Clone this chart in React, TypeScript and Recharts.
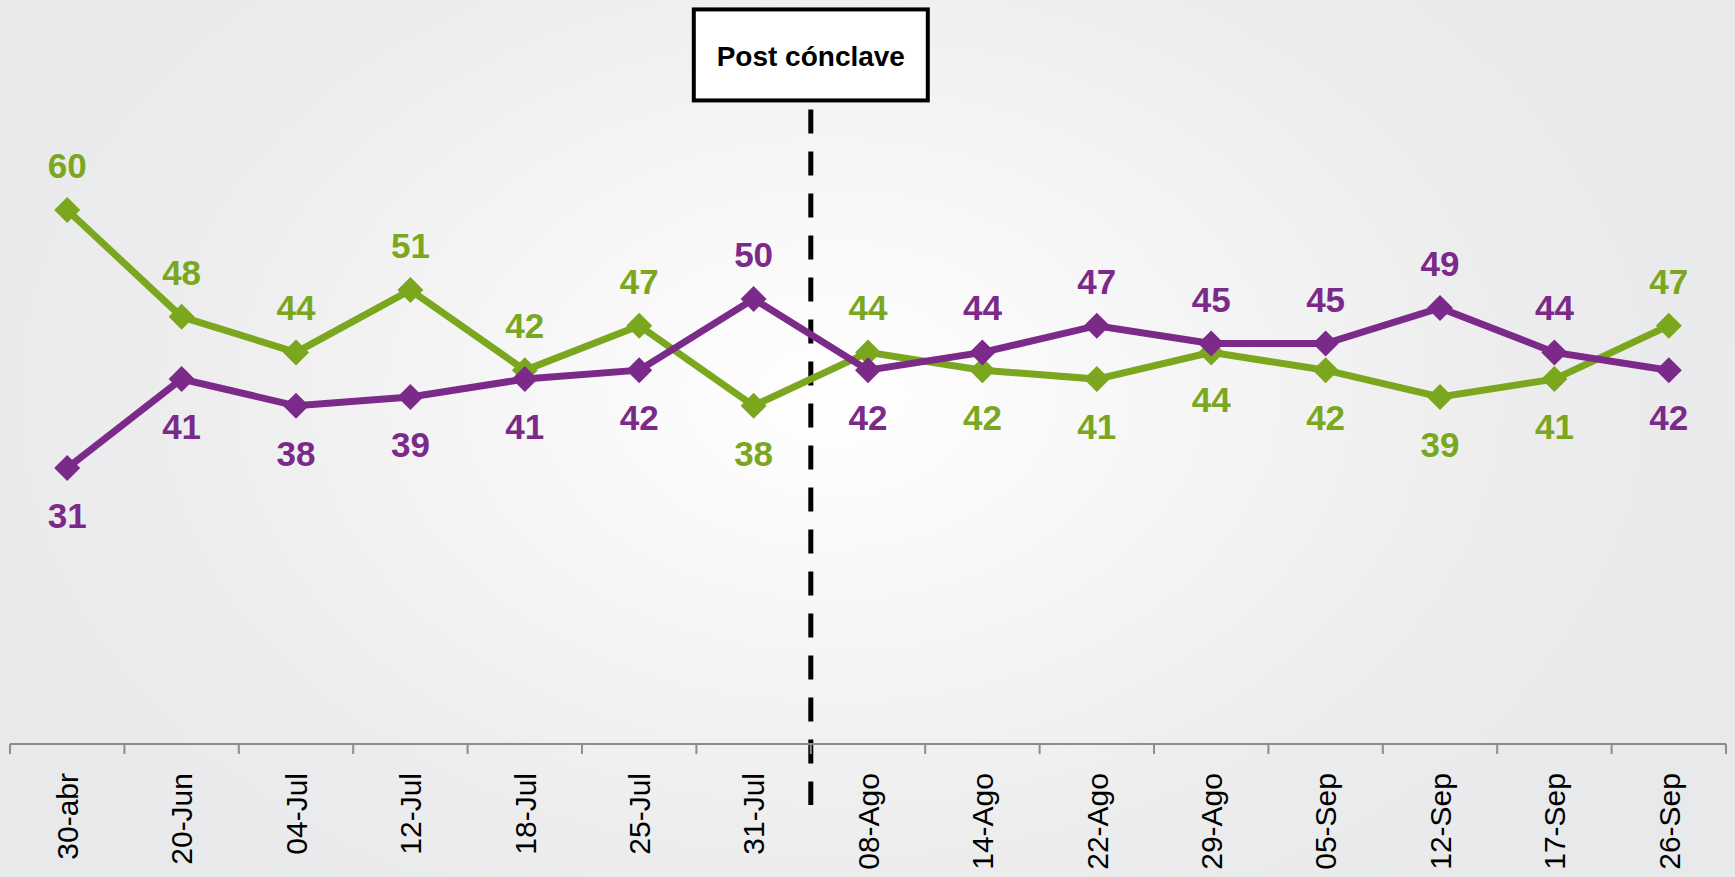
import React from "react";
import { LineChart, Line, XAxis, YAxis, ReferenceLine, LabelList } from "recharts";

const categories = ["30-abr", "20-Jun", "04-Jul", "12-Jul", "18-Jul", "25-Jul", "31-Jul", "08-Ago", "14-Ago", "22-Ago", "29-Ago", "05-Sep", "12-Sep", "17-Sep", "26-Sep"];
const greenValues = [60, 48, 44, 51, 42, 47, 38, 44, 42, 41, 44, 42, 39, 41, 47];
const purpleValues = [31, 41, 38, 39, 41, 42, 50, 42, 44, 47, 45, 45, 49, 44, 42];
const annotationText = "Post cónclave";

const GREEN = "#7AA71E";
const PURPLE = "#7B2A8A";
const FONT = "'Liberation Sans', Arial, sans-serif";

const data = categories.map((c, i) => ({ idx: i, cat: c, green: greenValues[i], purple: purpleValues[i] }));
const labelTicks = categories.map((_, i) => i);
const boundaryTicks = [...categories.map((_, i) => i - 0.5), categories.length - 0.5];
const allTicks = [...boundaryTicks, ...labelTicks].sort((a, b) => a - b);

const Diamond = (color: string) => (props: any) => {
  const { cx, cy, index } = props;
  if (cx == null || cy == null) return null;
  const r = 13;
  return (
    <polygon
      key={`d-${color}-${index}`}
      points={`${cx},${cy - r} ${cx + r},${cy} ${cx},${cy + r} ${cx - r},${cy}`}
      fill={color}
    />
  );
};

const makeLabel = (own: number[], other: number[], color: string) => (props: any) => {
  const { x, y, index, value } = props;
  if (x == null || y == null) return null;
  const above = own[index] >= other[index];
  return (
    <text
      key={`l-${color}-${index}`}
      x={x}
      y={above ? y - 32 : y + 60}
      textAnchor="middle"
      fill={color}
      fontFamily={FONT}
      fontWeight="bold"
      fontSize={35}
    >
      {value}
    </text>
  );
};

const AxisTick = (props: any) => {
  const { x, y, payload } = props;
  const v = payload.value;
  const tickSize = 10;
  const tickMargin = 19;
  const axisY = y - tickSize - tickMargin;
  if (!Number.isInteger(v)) {
    return <line x1={x} x2={x} y1={axisY} y2={axisY + tickSize} stroke="#8c8c8c" strokeWidth={2} />;
  }
  const label = categories[v];
  return (
    <text
      x={x}
      y={y}
      dy="0.36em"
      transform={`rotate(-90, ${x}, ${y})`}
      textAnchor="end"
      fill="#000"
      fontFamily={FONT}
      fontSize={30}
    >
      {label}
    </text>
  );
};

const PostLabel = (props: any) => {
  const vb = props.viewBox || {};
  const cx = vb.x1 != null ? vb.x1 : vb.x;
  const top = vb.y1 != null ? Math.min(vb.y1, vb.y2) : vb.y;
  const w = 234;
  const h = 91;
  const boxBottom = top - 9;
  return (
    <g>
      <rect x={cx - w / 2} y={boxBottom - h} width={w} height={h} fill="#ffffff" stroke="#000" strokeWidth={4} />
      <text
        x={cx}
        y={boxBottom - h + 57}
        textAnchor="middle"
        fontFamily={FONT}
        fontWeight="bold"
        fontSize={28}
        fill="#000"
      >
        {annotationText}
      </text>
    </g>
  );
};

export default function App() {
  return (
    <div
      style={{
        position: "absolute",
        left: 0,
        top: 0,
        width: 1735,
        height: 877,
        background:
          "radial-gradient(ellipse 55% 75% at 48% 45%, #ffffff 0%, #f6f6f7 35%, #ededee 70%, #e8e9eb 100%)",
      }}
    >
      <LineChart width={1735} height={877} data={data} margin={{ top: 32, right: 9, left: 10, bottom: 0 }}>
        <XAxis
          dataKey="idx"
          type="number"
          domain={[-0.5, categories.length - 0.5]}
          ticks={allTicks}
          interval={0}
          tickLine={false}
          tickSize={10}
          tickMargin={19}
          height={133}
          axisLine={{ stroke: "#8c8c8c", strokeWidth: 2 }}
          tick={<AxisTick />}
        />
        <YAxis hide domain={[0, 80]} type="number" />
        <ReferenceLine
          segment={[
            { x: 6.5, y: 71.3 },
            { x: 6.5, y: -6.85 },
          ]}
          ifOverflow="visible"
          stroke="#000"
          strokeWidth={5}
          strokeDasharray="24 18"
          label={<PostLabel />}
        />
        <Line
          dataKey="green"
          stroke={GREEN}
          strokeWidth={7}
          dot={Diamond(GREEN)}
          activeDot={false}
          isAnimationActive={false}
        >
          <LabelList dataKey="green" content={makeLabel(greenValues, purpleValues, GREEN)} />
        </Line>
        <Line
          dataKey="purple"
          stroke={PURPLE}
          strokeWidth={7}
          dot={Diamond(PURPLE)}
          activeDot={false}
          isAnimationActive={false}
        >
          <LabelList dataKey="purple" content={makeLabel(purpleValues, greenValues, PURPLE)} />
        </Line>
      </LineChart>
    </div>
  );
}
